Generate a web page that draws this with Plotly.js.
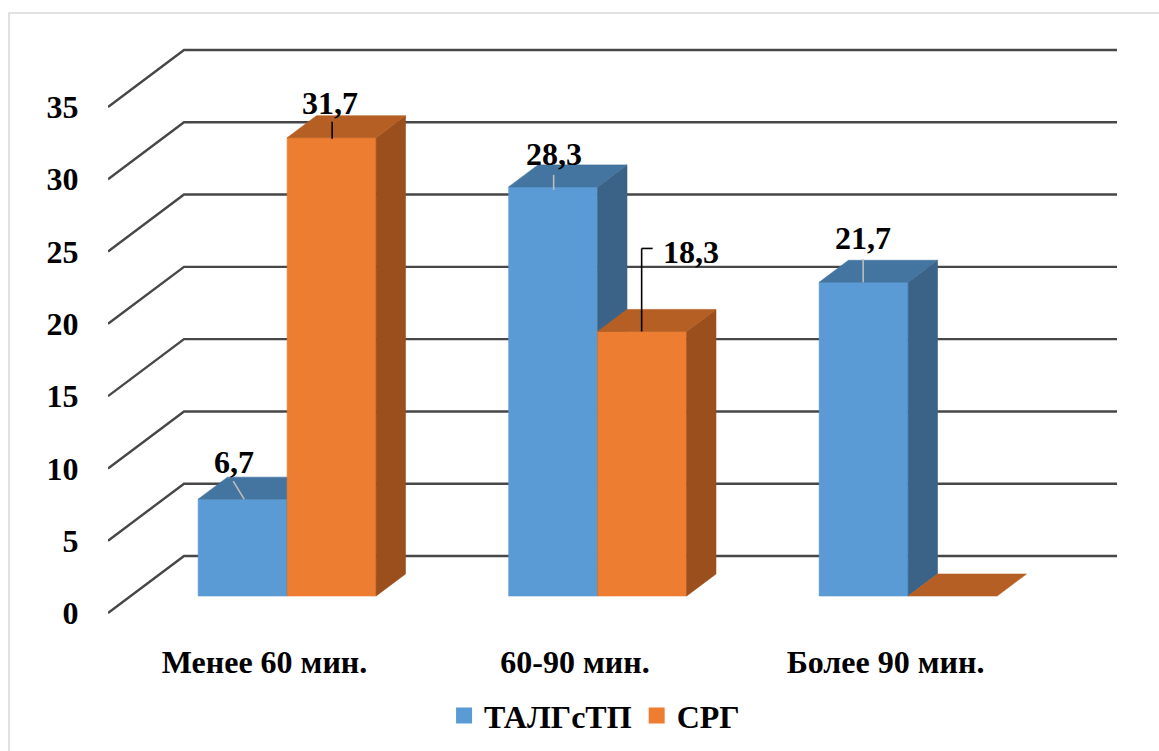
<!DOCTYPE html>
<html>
<head>
<meta charset="utf-8">
<script src="https://cdn.plot.ly/plotly-3.0.1.min.js"></script>
<style>
  html, body { margin: 0; padding: 0; background: #ffffff; }
  #chart { width: 1159px; height: 751px; }
</style>
</head>
<body>
<div id="chart"></div>
<script>
// Share of patients (%) by duration, two groups
const categories = ['Менее 60 мин.', '60-90 мин.', 'Более 90 мин.'];
const seriesNames = ['ТАЛГсТП', 'СРГ'];
const talgValues = [6.7, 28.3, 21.7];
const srgValues = [31.7, 18.3, 0];
const yTickValues = [0, 5, 10, 15, 20, 25, 30, 35];

// Colours per series: front, top, side faces
const palette = [
  { front: '#5B9BD5', top: '#4474A0', side: '#3A6387' },
  { front: '#ED7D31', top: '#B65F24', side: '#9A4F1D' }
];

// Pseudo-3D projection in axis units
const DEPTH_X = 0.2448;      // x shift over the full floor depth
const DEPTH_Y = 3.943;       // value shift over the full floor depth
const BAR_D0 = 0.298;        // bar front plane (fraction of depth)
const BAR_D1 = 0.684;        // bar back plane
const BAR_W = 0.2866;        // width of one bar
const FLOOR_LEFT = -0.504;   // left edge of the floor / side wall
const WALL_RIGHT = 2.7456;   // right end of the back wall

const FONT = { family: '"Liberation Serif", "Times New Roman", serif', size: 32, color: '#000000', weight: 700 };

const traces = [];

// Side-wall diagonals and back-wall lines for every value tick
const gx = [], gy = [];
yTickValues.forEach(v => {
  gx.push(FLOOR_LEFT, FLOOR_LEFT + DEPTH_X, WALL_RIGHT, null);
  gy.push(v, v + DEPTH_Y, v + DEPTH_Y, null);
});
traces.push({
  type: 'scatter', mode: 'lines', x: gx, y: gy,
  line: { color: '#474747', width: 2.4 },
  hoverinfo: 'skip', showlegend: false
});

function face(xs, ys, color) {
  return {
    type: 'scatter', mode: 'lines', x: xs, y: ys, fill: 'toself',
    fillcolor: color, line: { color: color, width: 0.6 },
    hoverinfo: 'skip', showlegend: false
  };
}

const seriesValues = [talgValues, srgValues];
const bx = (BAR_D1 - BAR_D0) * DEPTH_X;
const by = (BAR_D1 - BAR_D0) * DEPTH_Y;

categories.forEach((cat, i) => {
  const c = i + BAR_D0 * DEPTH_X;
  seriesValues.forEach((vals, s) => {
    const v = vals[i];
    const xl = c - BAR_W + s * BAR_W;
    const xr = xl + BAR_W;
    const yb = BAR_D0 * DEPTH_Y;
    const yt = v + yb;
    const col = palette[s];
    if (v > 0) {
      traces.push(face([xl, xr, xr, xl, xl], [yb, yb, yt, yt, yb], col.front));
      traces.push(face([xr, xr + bx, xr + bx, xr, xr], [yb, yb + by, yt + by, yt, yb], col.side));
    }
    traces.push(face([xl, xr, xr + bx, xl + bx, xl], [yt, yt, yt + by, yt + by, yt], col.top));
  });
});

// Legend entries
seriesNames.forEach((name, s) => {
  traces.push({
    type: 'scatter', mode: 'markers', x: [null], y: [null], name: name,
    marker: { symbol: 'square', size: 16, color: palette[s].front },
    hoverinfo: 'skip'
  });
});

// Value labels with their leader lines (pixel offsets from the bar's top front edge)
const labelOffsets = [
  [{ dx: -8.5, dy: 37 }, { dx: -1.5, dy: 35 }],
  [{ dx: 0.5, dy: 33 }, { dx: 48.5, dy: 79 }],
  [{ dx: -0.5, dy: 44 }, null]
];
const leaderLines = [
  [[{ x0: -9.5, y0: 18, x1: 1.5, y1: 0, c: '#BDBDBD' }], [{ x0: 0.5, y0: -1, x1: 0.5, y1: 16, c: '#000000' }]],
  [[{ x0: 0.5, y0: -3, x1: 0.5, y1: 12, c: '#BDBDBD' }], [{ x0: -0.5, y0: 0, x1: -0.5, y1: 83, c: '#000000' }, { x0: -0.5, y0: 83, x1: 10.5, y1: 83, c: '#000000' }]],
  [[{ x0: -0.5, y0: 0, x1: -0.5, y1: 23, c: '#BDBDBD' }], []]
];

const annotations = [];
const shapes = [];
categories.forEach((cat, i) => {
  const c = i + BAR_D0 * DEPTH_X;
  seriesValues.forEach((vals, s) => {
    const v = vals[i];
    const xc = c - BAR_W / 2 + s * BAR_W;
    const yt = v + BAR_D0 * DEPTH_Y;
    const off = labelOffsets[i][s];
    if (off) {
      annotations.push({
        x: xc, y: yt, xref: 'x', yref: 'y', xshift: off.dx, yshift: off.dy,
        text: String(v).replace('.', ','), showarrow: false,
        xanchor: 'center', yanchor: 'middle', font: FONT
      });
    }
    leaderLines[i][s].forEach(l => {
      shapes.push({
        type: 'line', xref: 'x', yref: 'y',
        xsizemode: 'pixel', ysizemode: 'pixel', xanchor: xc, yanchor: yt,
        x0: l.x0, x1: l.x1, y0: l.y0, y1: l.y1,
        line: { color: l.c, width: 1.6 }
      });
    });
  });
});

// Outer frame of the chart area
shapes.push({
  type: 'rect', xref: 'paper', yref: 'paper', layer: 'below',
  x0: -0.0978, x1: 1.2, y0: -0.4, y1: 1.0466,
  line: { color: '#D9D9D9', width: 1.6 }, fillcolor: 'rgba(0,0,0,0)'
});

const layout = {
  width: 1159, height: 751,
  margin: { l: 108, r: 39, t: 40, b: 131, pad: 0 },
  paper_bgcolor: '#ffffff', plot_bgcolor: 'rgba(0,0,0,0)',
  font: FONT,
  showlegend: true,
  legend: {
    orientation: 'h', xref: 'container', yref: 'container',
    x: 0.513, xanchor: 'center', y: 0.047, yanchor: 'middle',
    font: FONT, bgcolor: 'rgba(0,0,0,0)'
  },
  xaxis: {
    range: [-0.50403, 2.75523], tickvals: [0, 1, 2], ticktext: categories,
    showgrid: false, zeroline: false, showline: false,
    ticks: 'outside', ticklen: 14, tickcolor: 'rgba(0,0,0,0)',
    tickfont: FONT, fixedrange: true
  },
  yaxis: {
    range: [-0.4842, 39.635], tickvals: yTickValues,
    showgrid: false, zeroline: false, showline: false,
    ticks: 'outside', ticklen: 22, tickcolor: 'rgba(0,0,0,0)',
    tickfont: FONT, fixedrange: true
  },
  annotations: annotations,
  shapes: shapes
};

Plotly.newPlot('chart', traces, layout, { displayModeBar: false, staticPlot: true });
</script>
</body>
</html>
